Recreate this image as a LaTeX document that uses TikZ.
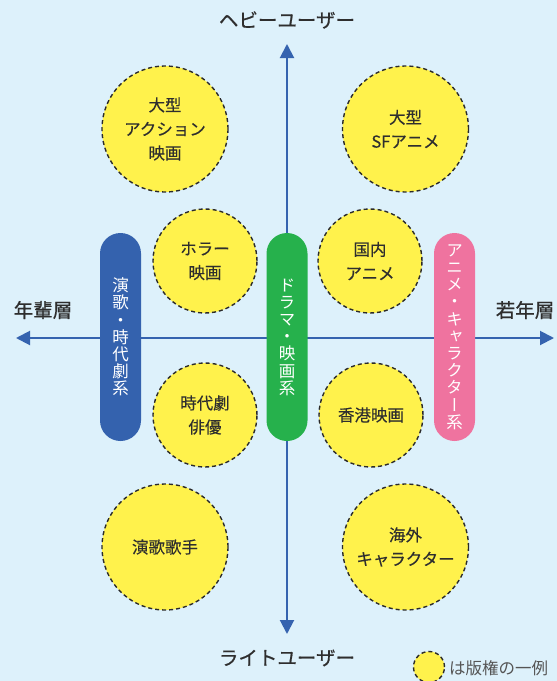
\documentclass[tikz,border=0pt]{standalone}
\usepackage{fontspec}
\setmainfont{Noto Sans CJK JP}
\newfontfamily\vjp[RawFeature={+vert}]{Noto Sans CJK JP}
\newfontfamily\jpmed[FakeBold=0.6]{Noto Sans CJK JP}
\newfontfamily\jpsemi[FakeBold=0.25]{Noto Sans CJK JP}
\usetikzlibrary{arrows.meta}
\definecolor{bgc}{HTML}{DDF1FB}
\definecolor{axisblue}{HTML}{3563AF}
\definecolor{pillblue}{HTML}{3462AE}
\definecolor{pillgreen}{HTML}{26B14C}
\definecolor{pillpink}{HTML}{EF739F}
\definecolor{yel}{HTML}{FFF24C}
\definecolor{dashc}{HTML}{2A2A2A}
\definecolor{txt}{HTML}{2E2E2E}
\definecolor{legtxt}{HTML}{555555}
\tikzset{
  axisline/.style={draw=axisblue, line width=2pt, {Triangle[length=14pt,width=14pt]}-{Triangle[length=14pt,width=14pt]}},
  circ/.style={circle, draw=dashc, line width=1.4pt, dash pattern=on 4pt off 3pt, fill=yel, inner sep=0pt, minimum size=#1, align=center, text=txt, font=\jpsemi\fontsize{16.5}{24}\selectfont},
  pill/.style={rectangle, rounded corners=20.5pt, fill=#1, minimum width=41pt, minimum height=208pt, inner sep=0pt},
  pilltext/.style={align=center, text=white, inner sep=0pt, font=\vjp\fontsize{16.5}{17.2}\selectfont},
  axislabel/.style={text=txt, inner sep=0pt, font=\jpmed\fontsize{19.5}{22}\selectfont}
}
\begin{document}
\begin{tikzpicture}[x=1pt,y=-1pt]
\fill[bgc] (0,0) rectangle (557,681);
\useasboundingbox (0,0) rectangle (557,681);
% axes
\coordinate (axL) at (16,338);
\coordinate (axR) at (554,338);
\coordinate (axT) at (287,44);
\coordinate (axB) at (287,634);
\draw[axisline] (axL) -- (axR);
\draw[axisline] (axT) -- (axB);
% axis labels
\node[axislabel] (heavy) at (287,20) {ヘビーユーザー};
\node[axislabel] (light) at (287,658) {ライトユーザー};
\node[axislabel] (old) at (43,310) {年輩層};
\node[axislabel] (young) at (525,310) {若年層};
% circles
\node[circ=126pt] (c1) at (165,129) {大型\\アクション\\映画};
\node[circ=126pt] (c2) at (405.5,129) {大型\\SFアニメ};
\node[circ=104pt] (c3) at (205,261) {ホラー\\映画};
\node[circ=104pt] (c4) at (370,261) {国内\\アニメ};
\node[circ=104pt] (c5) at (205,415) {時代劇\\俳優};
\node[circ=104pt] (c6) at (371,415) {香港映画};
\node[circ=126pt] (c7) at (165,547) {演歌歌手};
\node[circ=126pt] (c8) at (405.5,547) {海外\\キャラクター};
% pills
\node[pill=pillblue] (p1) at (120.5,337) {};
\node[pill=pillgreen] (p2) at (287,337) {};
\node[pill=pillpink] (p3) at (454.5,337) {};
\node[pilltext] (t1) at (p1.center) {演\\歌\\・\\時\\代\\劇\\系};
\node[pilltext] (t2) at (p2.center) {ド\\ラ\\マ\\・\\映\\画\\系};
\node[pilltext] (t3) at (p3.center) {ア\\ニ\\メ\\・\\キ\\ャ\\ラ\\ク\\タ\\ー\\系};
% legend
\node[circle, draw=dashc, line width=1.4pt, dash pattern=on 4pt off 3pt, fill=yel, inner sep=0pt, minimum size=31pt] (leg) at (429,667) {};
\node[anchor=west, text=legtxt, inner sep=0pt, font=\fontsize{16.5}{20}\selectfont] (legt) at (449,668) {は版権の一例};
\end{tikzpicture}
\end{document}
